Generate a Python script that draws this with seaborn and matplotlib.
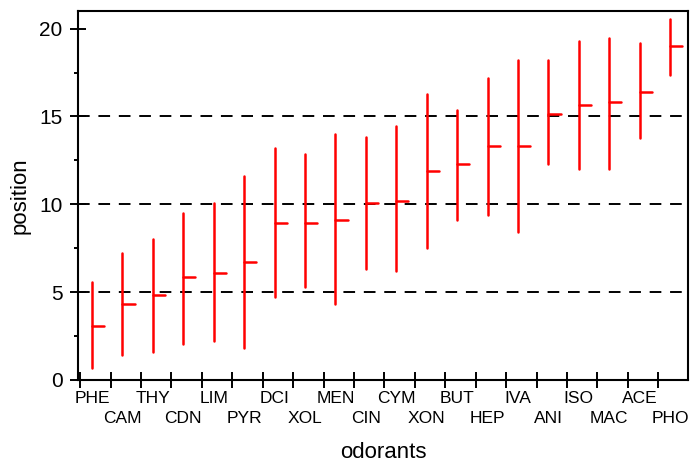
import pandas as pd
import matplotlib
matplotlib.use("Agg")
import matplotlib.pyplot as plt
import seaborn as sns

# odorants sorted by mean position, with min / mean / max
odorants = ["PHE", "CAM", "THY", "CDN", "LIM", "PYR", "DCI", "XOL", "MEN", "CIN",
            "CYM", "XON", "BUT", "HEP", "IVA", "ANI", "ISO", "MAC", "ACE", "PHO"]
low = [0.7, 1.4, 1.6, 2.05, 2.2, 1.8, 4.7, 5.3, 4.3, 6.3,
       6.2, 7.5, 9.1, 9.4, 8.4, 12.3, 12.0, 12.0, 13.8, 17.35]
mean = [3.1, 4.35, 4.85, 5.85, 6.1, 6.7, 8.95, 8.95, 9.1, 10.1,
        10.2, 11.9, 12.3, 13.3, 13.3, 15.15, 15.65, 15.8, 16.4, 19.0]
high = [5.6, 7.25, 8.0, 9.5, 10.1, 11.6, 13.2, 12.85, 14.0, 13.85,
        14.45, 16.3, 15.35, 17.2, 18.2, 18.2, 19.3, 19.45, 19.2, 20.55]

sns.set_style("ticks")
plt.rcParams["font.family"] = ["Liberation Sans", "DejaVu Sans"]
plt.rcParams["text.color"] = "black"
plt.rcParams["axes.labelcolor"] = "black"
plt.rcParams["xtick.color"] = "black"
plt.rcParams["ytick.color"] = "black"

# long tables for the range lines and the short mean ticks
rows = []
ticks = []
for i, name in enumerate(odorants):
    rows.append({"odorant": name, "x": i, "position": low[i]})
    rows.append({"odorant": name, "x": i, "position": high[i]})
    ticks.append({"odorant": name, "x": i, "position": mean[i]})
    ticks.append({"odorant": name, "x": i + 0.4, "position": mean[i]})
ranges = pd.DataFrame(rows)
means = pd.DataFrame(ticks)

fig = plt.figure(figsize=(6.94, 4.65), dpi=100)
ax = fig.add_axes([0.1124, 0.1828, 0.8790, 0.7935])

for y in [5, 10, 15]:
    ax.axhline(y, color="black", lw=1.4, ls=(0, (6, 4.5)), zorder=1)

sns.lineplot(data=ranges, x="x", y="position", units="odorant", estimator=None,
             color="red", lw=1.8, sort=False, ax=ax, zorder=3)
sns.lineplot(data=means, x="x", y="position", units="odorant", estimator=None,
             color="red", lw=1.8, sort=False, ax=ax, zorder=3)

ax.set_xlim(-0.46, 19.59)
ax.set_ylim(0, 21)

# labels under each line, alternating rows
ax.set_xticks(range(len(odorants)))
ax.set_xticklabels(odorants)
ax.set_xticks([i - 0.39 for i in range(len(odorants))], minor=True)
ax.tick_params(axis="x", which="major", bottom=False, length=0, pad=8, labelsize=12.5)
ax.tick_params(axis="x", which="minor", bottom=True, direction="inout", length=11, width=1.4)
for t in ax.xaxis.get_major_ticks()[1::2]:
    t.set_pad(22)

ax.set_yticks([0, 5, 10, 15, 20])
ax.set_yticks([2.5, 7.5, 12.5, 17.5], minor=True)
ax.tick_params(axis="y", which="major", left=True, direction="inout", length=12, width=1.4,
               labelsize=15, pad=5)
ax.tick_params(axis="y", which="minor", left=True, direction="out", length=3, width=1.4)

for s in ax.spines.values():
    s.set_visible(True)
    s.set_color("black")
    s.set_linewidth(1.5)

ax.set_xlabel("odorants", fontsize=16, labelpad=12)
ax.set_ylabel("position", fontsize=16, labelpad=6)

fig.savefig("out.png", dpi=100)
